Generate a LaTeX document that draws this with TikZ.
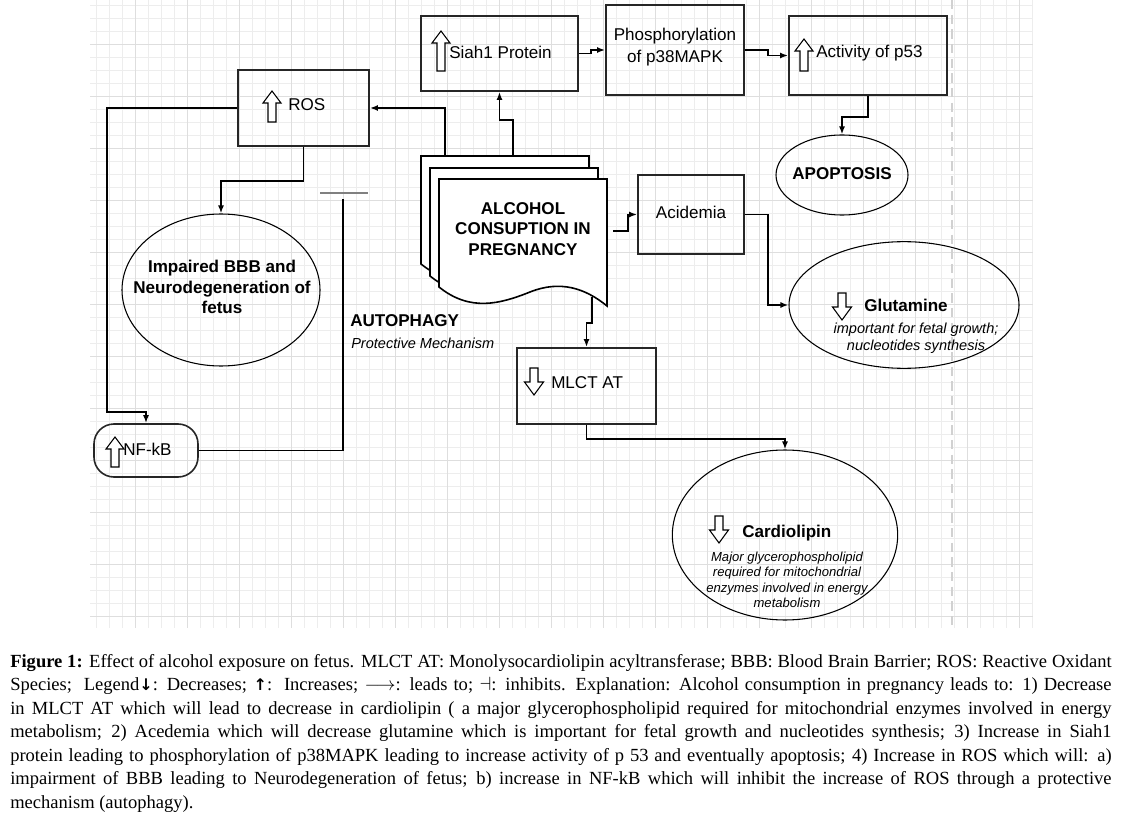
\documentclass[tikz,border=0pt]{standalone}
\usepackage{amsmath}
\usepackage{xcolor}
\usepackage{fontspec}
\setmainfont{Liberation Serif}
\newfontfamily\diagfont{Liberation Sans}
\newfontfamily\symfont{DejaVu Sans}
\usepackage{tikz}
\usetikzlibrary{shapes.geometric, arrows.meta, positioning, fit, calc}

\tikzset{
  box/.style={draw=black!85, line width=1.4pt, inner sep=0pt},
  oval/.style={draw, ellipse, line width=0.8pt, inner sep=0pt},
  pill/.style={draw=black!85, line width=1.2pt, rounded corners=15pt, inner sep=0pt},
  sheet/.style={draw, fill=white, line width=1.2pt},
  link/.style={->, line width=1.2pt},
  lbl/.style={inner sep=0pt, font=\diagfont\fontsize{12.8}{16.5}\selectfont},
  blbl/.style={inner sep=0pt, align=center, font=\diagfont\bfseries\fontsize{12.8}{15.4}\selectfont},
  note/.style={inner sep=0pt, align=center, font=\diagfont\itshape\fontsize{10.9}{12.8}\selectfont},
  smallnote/.style={inner sep=0pt, align=center, font=\diagfont\itshape\fontsize{9.8}{11.6}\selectfont},
  gridminor/.style={draw=black!7, line width=0.6pt},
  gridmajor/.style={draw=black!13, line width=0.6pt},
  pics/uparr/.style={code={
    \draw[line width=0.8pt, fill=white] (-4,0) -- (-4,{12-#1}) -- (-9,{12-#1}) -- (0,{-#1})
      -- (9,{12-#1}) -- (4,{12-#1}) -- (4,0) -- cycle;}},
  pics/dnarr/.style={code={
    \draw[line width=0.8pt, fill=white] (-4,0) -- (-4,{#1-13}) -- (-9.5,{#1-13}) -- (0,{#1})
      -- (9.5,{#1-13}) -- (4,{#1-13}) -- (4,0) -- cycle;}}
}

\begin{document}
\begin{tikzpicture}[x=0.75pt, y=-0.75pt, >={Latex[length=6pt,width=4.5pt]}]
  \fill[white] (0,0) rectangle (1123,816);
  \useasboundingbox (0,0) rectangle (1123,816);

  % grid paper
  \foreach \gx in {96,109,...,1033} \draw[gridminor] (\gx,0) -- (\gx,628);
  \foreach \gy in {5,18,...,628} \draw[gridminor] (90,\gy) -- (1033,\gy);
  \foreach \gx in {135,187,...,1033} \draw[gridmajor] (\gx,0) -- (\gx,628);
  \foreach \gy in {44,96,...,628} \draw[gridmajor] (90,\gy) -- (1033,\gy);
  \draw[black!18, line width=2.2pt, dash pattern=on 7pt off 4pt] (952,0) -- (952,628);

  % boxes
  \node[box, fit={(421,16) (578,91)}] (siah) {};
  \node[box, fit={(606,5) (744,95)}] (phos) {};
  \node[box, fit={(789,16) (947,95)}] (p53) {};
  \node[box, fit={(238,70) (369,146)}] (ros) {};
  \node[box, fit={(638,175) (744,254)}] (acid) {};
  \node[box, fit={(517,348) (656,424)}] (mlct) {};
  \node[pill, fit={(94,424) (198,477)}] (nfkb) {};

  % ellipses
  \node[oval, minimum width=99pt, minimum height=60pt] (apop) at (842,175) {};
  \node[oval, minimum width=148.5pt, minimum height=114pt] (bbb) at (221,290) {};
  \node[oval, minimum width=172.5pt, minimum height=95pt] (glut) at (904,305) {};
  \node[oval, minimum width=169pt, minimum height=127.5pt] (card) at (785,535) {};

  % alcohol document stack
  \foreach \dx/\dy in {-18/-23, -9/-11, 0/0}
    \draw[sheet, shift={(\dx,\dy)}] (439,179) -- (607,179) -- (607,306)
      .. controls (585,288) and (560,280) .. (530,292)
      .. controls (500,304) and (470,312) .. (439,287) -- cycle;
  \node[blbl] (alc) at (523,229) {ALCOHOL\\CONSUPTION IN\\PREGNANCY};
  \coordinate (stackros) at (445,156);
  \coordinate (stacksiah) at (513,156);
  \coordinate (stackacid) at (613,231);
  \coordinate (stackmlct) at (592,297);

  % labels
  \pic at (441,71) {uparr=40};
  \node[lbl, anchor=west] (siahtxt) at (449,52) {Siah1 Protein};
  \node[lbl, align=center] (phostxt) at (675,47) {Phosphorylation\\of p38MAPK};
  \pic at (804,71) {uparr=32};
  \node[lbl, anchor=west] (p53txt) at (816,53) {Activity of p53};
  \node[blbl] (apoptxt) at (842,174) {APOPTOSIS};
  \pic at (272,122) {uparr=31};
  \node[lbl, anchor=west] (rostxt) at (288,105) {ROS};
  \node[blbl] (bbbtxt) at (222,287) {Impaired BBB and\\Neurodegeneration of\\fetus};
  \node[blbl, anchor=west] (autotxt) at (350,321) {AUTOPHAGY};
  \node[note, anchor=west] (prottxt) at (351,343) {Protective Mechanism};
  \pic at (115,467) {uparr=30};
  \node[lbl, anchor=west] (nfkbtxt) at (123,449) {NF-kB};
  \node[lbl] (acidtxt) at (691,212) {Acidemia};
  \pic at (842,293) {dnarr=27};
  \node[blbl, anchor=west] (gluttxt) at (864,305) {Glutamine};
  \node[note] (glutnote) at (916,338) {important for fetal growth;\\nucleotides synthesis};
  \pic at (534,368) {dnarr=27};
  \node[lbl, anchor=west] (mlcttxt) at (551,383) {MLCT AT};
  \pic at (719,516) {dnarr=27};
  \node[blbl, anchor=west] (cardtxt) at (742,533) {Cardiolipin};
  \node[smallnote] (cardnote) at (787,580) {Major glycerophospholipid\\required for mitochondrial\\enzymes involved in energy\\metabolism};

  % connectors
  \draw[link] (stackros) |- (ros.east);
  \draw[link] (stacksiah) -- (513,120) -| (siah.south);
  \draw[link] (siah.east) -- ++(12,0) |- (phos.west);
  \draw[link] (phos.east) -- ++(23,0) |- (p53.west);
  \draw[link] (p53.south) -- ++(0,21) -| (apop.north);
  \draw[link] (ros.south) -- ++(0,34) -| (bbb.north);
  \draw[link] (ros.west) -| (107,412) -| (nfkb.north);
  \coordinate (inhibend) at (343,199);
  \draw[line width=1.2pt] (nfkb.east) -| (inhibend);
  \draw[black!50, line width=1.5pt] (320,193) -- (368,193);
  \draw[link] (stackacid) -- ++(15,0) |- (acid.west);
  \draw[link] (acid.east) -- ++(23,0) |- (glut.west);
  \draw[link] (stackmlct) -- (592,323) -| (mlct.north);
  \draw[link] (mlct.south) -- ++(0,14) -| (card.north);

  % caption
  \node[anchor=north west, inner sep=0pt, text width=826pt, align=justify,
        font=\fontsize{13.9}{17.6}\selectfont] (capt) at (10,654) {%
    \hyphenpenalty=10000\relax
    \textbf{Figure 1:} Effect of alcohol exposure on fetus. MLCT AT: Monolysocardiolipin acyltransferase; BBB: Blood Brain Barrier; ROS: Reactive Oxidant\linebreak
    Species;\ \ Legend{\symfont\bfseries\large ↓}: Decreases; {\symfont\bfseries\large ↑}:\ \ Increases; $\longrightarrow$: leads to; $\dashv$: inhibits. Explanation: Alcohol consumption in pregnancy leads to: 1) Decrease\linebreak
    in MLCT AT which will lead to decrease in cardiolipin ( a major glycerophospholipid required for mitochondrial enzymes involved in energy\linebreak
    metabolism; 2) Acedemia which will decrease glutamine which is important for fetal growth and nucleotides synthesis; 3) Increase in Siah1\linebreak
    protein leading to phosphorylation of p38MAPK leading to increase activity of p 53 and eventually apoptosis; 4) Increase in ROS which will: a)\linebreak
    impairment of BBB leading to Neurodegeneration of fetus; b) increase in NF-kB which will inhibit the increase of ROS through a protective\linebreak
    mechanism (autophagy).};
\end{tikzpicture}
\end{document}
